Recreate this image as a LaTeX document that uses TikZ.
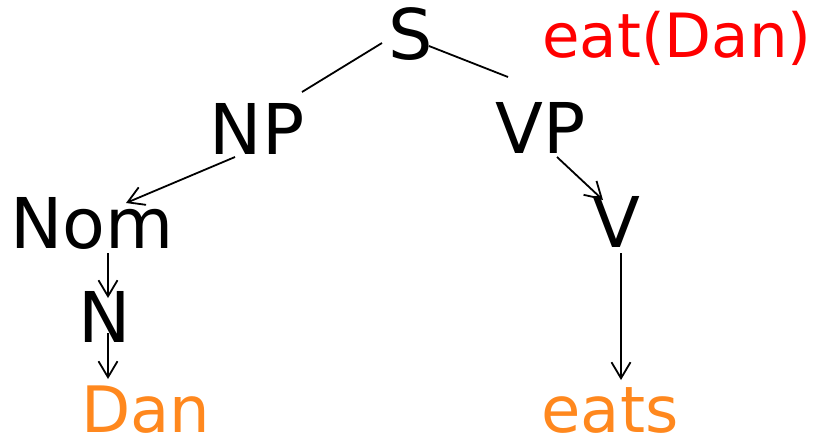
\documentclass[tikz,border=0pt]{standalone}
\usepackage{fontspec}
\setmainfont{DejaVu Sans}
\usetikzlibrary{arrows.meta,calc}
\definecolor{semred}{RGB}{255,0,0}
\definecolor{wordorange}{RGB}{255,136,30}
\begin{document}
\begin{tikzpicture}[x=1pt,y=-1pt,
  cat/.style={inner sep=0pt,anchor=base,font=\fontsize{70}{84}\selectfont},
  word/.style={inner sep=0pt,anchor=base,text depth=0pt,text=wordorange,font=\fontsize{64}{77}\selectfont},
  sem/.style={inner sep=0pt,anchor=base,text=semred,font=\fontsize{61}{73}\selectfont},
  link/.style={line width=1.8pt},
  arc/.style={line width=1.8pt,-{Straight Barb[length=16pt,width=19pt,line width=1.8pt]}}]
\useasboundingbox (0,0) rectangle (822,440);

% categories of the parse tree
\node[cat] (s)   at (411,59)  {S};
\node[cat] (np)  at (257,154) {NP};
\node[cat] (vp)  at (541,153) {VP};
\node[cat] (nom) at (92,248)  {Nom};
\node[cat] (v)   at (616,247) {V};
\node[cat] (n)   at (105,342) {N};

% words and meaning
\node[word] (dan)  at (146,432) {Dan};
\node[word] (eats) at (610,432) {eats};
\node[sem]  (meaning) at (677,57) {eat(Dan)};

% branches
\draw[link] ($(np.base)+(45,-62)$) -- ($(s.base)+(-29,-16)$);
\draw[link] ($(s.base)+(18,-13)$) -- ($(vp.base)+(-33,-76)$);
\draw[arc] ($(np.base)+(-22,3)$) -- ($(nom.base)+(34,-45)$);
\draw[arc] ($(vp.base)+(16,4)$) -- ($(v.base)+(-13,-47)$);
\draw[arc] ($(nom.base)+(16,5)$) -- ($(n.base)+(3,-44)$);
\draw[arc] ($(n.base)+(3,-9)$) -- ($(dan.base)+(-38,-53)$);
\draw[arc] ($(v.base)+(5,6)$) -- ($(eats.base)+(11,-52)$);
\end{tikzpicture}
\end{document}
